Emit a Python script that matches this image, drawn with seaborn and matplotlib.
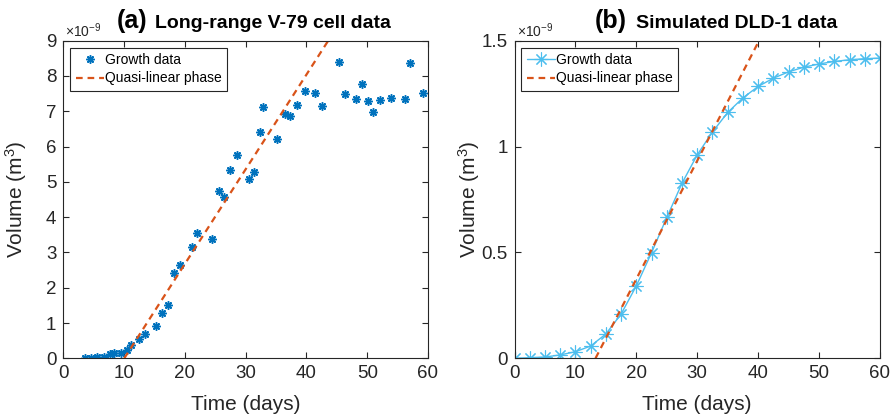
import numpy as np
import pandas as pd
import matplotlib
matplotlib.use("Agg")
import matplotlib.pyplot as plt
import seaborn as sns

# ---------------- data (volumes in units of 1e-9 m^3) ----------------
v79_days = [3.56, 4.55, 5.54, 6.63, 7.67, 8.38, 9.43, 10.41, 11.17, 12.43,
            13.47, 15.18, 16.21, 17.2, 18.24, 19.17, 21.25, 22.01, 24.43, 25.63,
            26.45, 27.5, 28.53, 30.5, 31.38, 32.42, 32.91, 35.22, 36.42, 37.24,
            38.44, 39.70, 41.45, 42.55, 45.29, 46.27, 48.08, 49.17, 50.05, 50.98,
            52.08, 53.94, 56.18, 57.05, 59.13]
v79_volume = [0.02, 0.02, 0.04, 0.04, 0.12, 0.14, 0.16, 0.23, 0.38, 0.55,
              0.68, 0.91, 1.29, 1.50, 2.41, 2.64, 3.15, 3.56, 3.37, 4.74,
              4.57, 5.35, 5.75, 5.08, 5.27, 6.41, 7.13, 6.21, 6.93, 6.87,
              7.18, 7.57, 7.53, 7.15, 8.39, 7.48, 7.35, 7.76, 7.29, 6.99,
              7.33, 7.39, 7.35, 8.37, 7.51]
v79_fit_days = [10.03, 45.0]
v79_fit_volume = [0.0, 9.38]

dld_days = [0, 2.5, 5, 7.5, 10, 12.5, 15, 17.5, 20, 22.5, 25, 27.5, 30,
            32.5, 35, 37.5, 40, 42.5, 45, 47.5, 50, 52.5, 55, 57.5, 60]
dld_volume = [0.0, 0.003, 0.006, 0.016, 0.031, 0.058, 0.115, 0.209, 0.342,
              0.499, 0.665, 0.827, 0.961, 1.069, 1.161, 1.230, 1.284, 1.323,
              1.353, 1.375, 1.390, 1.402, 1.410, 1.415, 1.418]
dld_fit_days = [13.3, 41.0]
dld_fit_volume = [0.0, 1.548]

x_ticks = [0, 10, 20, 30, 40, 50, 60]
left_yticks = [0, 1, 2, 3, 4, 5, 6, 7, 8, 9]
right_yticks = [0, 0.5, 1, 1.5]
right_yticklabels = ["0", "0.5", "1", "1.5"]

# ---------------- style ----------------
sns.set_theme(style="ticks")
plt.rcParams["font.family"] = ["Liberation Sans", "DejaVu Sans"]
plt.rcParams["mathtext.fontset"] = "custom"
plt.rcParams["mathtext.rm"] = "Liberation Sans"
plt.rcParams["mathtext.it"] = "Liberation Sans:italic"
plt.rcParams["mathtext.bf"] = "Liberation Sans:bold"

DARK = "#262626"
BLUE = "#0072BD"
LBLUE = "#4DBEEE"
RED = "#D95319"

W, H = 894, 418
fig = plt.figure(figsize=(W / 100, H / 100), dpi=100)

def px_axes(x0, x1, y0, y1):
    return fig.add_axes([x0 / W, 1 - y1 / H, (x1 - x0) / W, (y1 - y0) / H])

axL = px_axes(63.3, 428, 40.7, 358.3)
axR = px_axes(514.5, 880, 40.7, 358.3)

dash = (0, (3.0, 2.2))
AST = (8, 2, 0)

# left panel
dfL = pd.DataFrame({"Time": v79_days, "Volume": v79_volume})
sns.lineplot(data=dfL, x="Time", y="Volume", ax=axL, sort=False,
             linestyle="none", marker=AST, markersize=6,
             markeredgewidth=1.1, mec=BLUE, mfc=BLUE, color=BLUE,
             label="Growth data")
sns.lineplot(x=v79_fit_days, y=v79_fit_volume, ax=axL, color=RED,
             linewidth=1.6, linestyle=dash, label="Quasi-linear phase")

# right panel
dfR = pd.DataFrame({"Time": dld_days, "Volume": dld_volume})
sns.lineplot(data=dfR, x="Time", y="Volume", ax=axR, marker=AST,
             markersize=10, markeredgewidth=0.8, mec=LBLUE, mfc=LBLUE,
             linewidth=1.0, color=LBLUE, label="Growth data")
sns.lineplot(x=dld_fit_days, y=dld_fit_volume, ax=axR, color=RED,
             linewidth=1.6, linestyle=dash, label="Quasi-linear phase")

for ax, yt, ytl, ymax in [(axL, left_yticks, [str(t) for t in left_yticks], 9),
                          (axR, right_yticks, right_yticklabels, 1.5)]:
    ax.set_xlim(0, 60)
    ax.set_ylim(0, ymax)
    ax.set_xticks(x_ticks)
    ax.set_xticklabels([str(t) for t in x_ticks])
    ax.set_yticks(yt)
    ax.set_yticklabels(ytl)
    ax.tick_params(direction="in", length=4, width=0.8, colors=DARK,
                   labelsize=13.5, top=True, right=True, pad=5)
    for s in ax.spines.values():
        s.set_visible(True)
        s.set_color(DARK)
        s.set_linewidth(0.8)
    ax.set_xlabel("Time (days)", fontsize=15, color=DARK, labelpad=9)
    ax.set_ylabel("Volume (m$^{\\mathregular{3}}$)", fontsize=15, color=DARK)
    ax.annotate("\u00d710$^{\\mathregular{-9}}$", xy=(0, 1), xycoords="axes fraction",
                xytext=(1.5, 2.5), textcoords="offset points", ha="left",
                va="baseline", fontsize=10, color=DARK)
    leg = ax.legend(loc="upper left", fontsize=10, frameon=True, fancybox=False,
                    borderaxespad=0.5, handlelength=2.0, handletextpad=0.1,
                    borderpad=0.4, labelspacing=0.3)
    leg.get_frame().set_edgecolor(DARK)
    leg.get_frame().set_linewidth(0.8)
    leg.get_frame().set_alpha(1)
    for t in leg.get_texts():
        t.set_color("black")

axL.yaxis.set_label_coords(-0.095, 0.5)
axR.yaxis.set_label_coords(-0.09, 0.5)

# titles
def title(x_par, x_txt, par, txt):
    fig.text(x_par / W, 1 - 28 / H, par, fontsize=18, fontweight="bold",
             va="baseline", ha="left", color="black")
    fig.text(x_txt / W, 1 - 28 / H, txt, fontsize=14, fontweight="bold",
             va="baseline", ha="left", color="black")

title(117, 155, "(a)", "Long-range V-79 cell data")
title(595, 636, "(b)", "Simulated DLD-1 data")

fig.savefig("out.png", dpi=100)
